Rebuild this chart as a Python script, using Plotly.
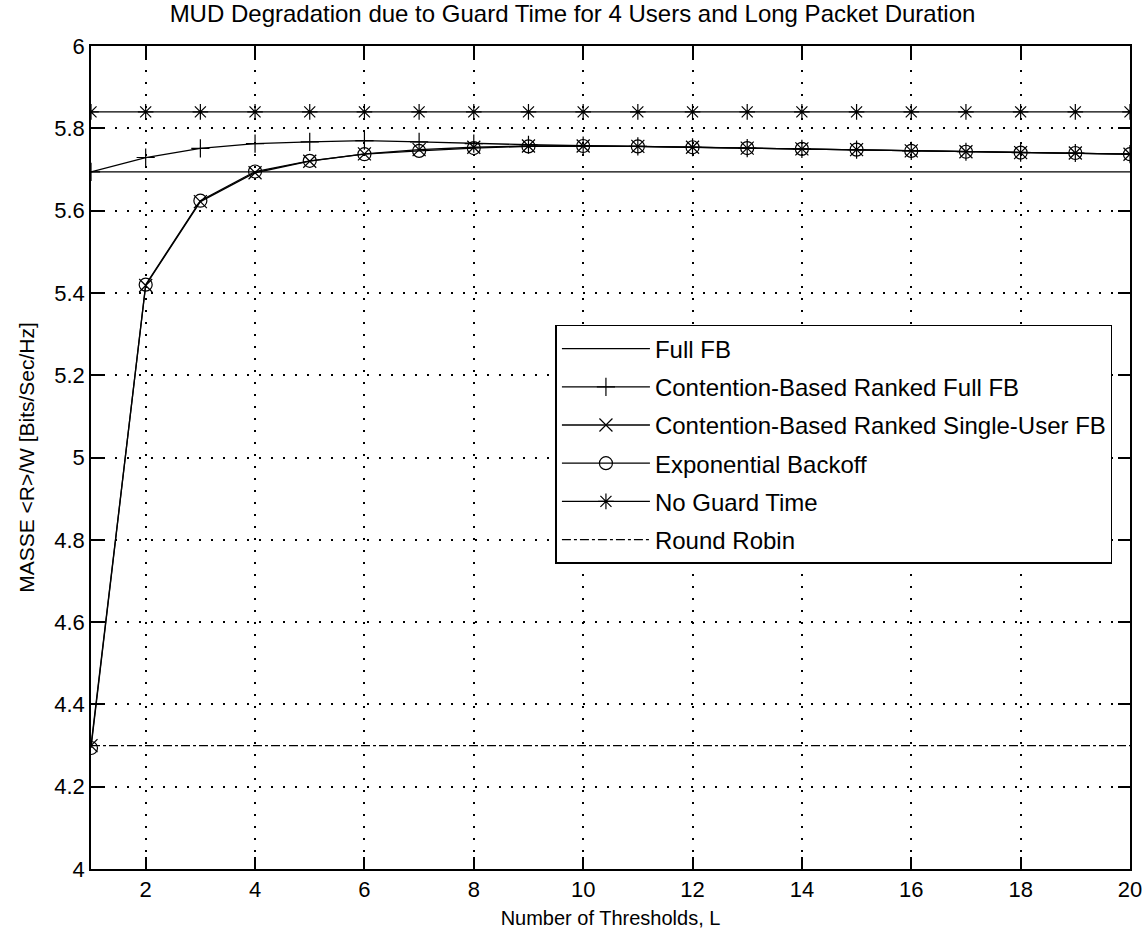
import plotly.graph_objects as go

L = list(range(1, 21))
full_fb = [5.694] * 20
cb_full = [5.694, 5.729, 5.751, 5.763, 5.767, 5.770, 5.767, 5.763, 5.760, 5.758,
           5.756, 5.754, 5.752, 5.750, 5.748, 5.745, 5.743, 5.741, 5.740, 5.737]
cb_single = [4.300, 5.418, 5.622, 5.692, 5.720, 5.738, 5.748, 5.754, 5.757, 5.757,
             5.756, 5.754, 5.752, 5.750, 5.748, 5.745, 5.743, 5.741, 5.740, 5.737]
exp_backoff = [4.294, 5.420, 5.624, 5.695, 5.721, 5.737, 5.745, 5.752, 5.756, 5.757,
               5.756, 5.754, 5.752, 5.750, 5.748, 5.745, 5.743, 5.741, 5.740, 5.737]
no_guard = [5.840] * 20
round_robin = [4.300] * 20

x_ticks = list(range(2, 21, 2))
y_ticks = [4.0, 4.2, 4.4, 4.6, 4.8, 5.0, 5.2, 5.4, 5.6, 5.8, 6.0]
y_ticktext = ["4", "4.2", "4.4", "4.6", "4.8", "5", "5.2", "5.4", "5.6", "5.8", "6"]

FONT = "Liberation Sans"
fig = go.Figure()

def add(y, name, symbol=None, dash="solid", grp="a"):
    mode = "lines+markers" if symbol else "lines"
    kw = {}
    if symbol:
        kw["marker"] = dict(symbol=symbol, size=13, color="black",
                            line=dict(color="black", width=1.2))
    fig.add_trace(go.Scatter(x=L, y=y, name=name, mode=mode,
                             line=dict(color="black", width=1.3, dash=dash),
                             legendgroup=grp, **kw))

add(full_fb, "Full FB", grp="g1")
add(cb_full, "Contention-Based Ranked Full FB", "cross-thin-open", grp="g2")
add(cb_single, "Contention-Based Ranked Single-User FB", "x-thin-open", grp="g3")
add(exp_backoff, "Exponential Backoff", "circle-open", grp="g4")
add(no_guard, "No Guard Time", "asterisk-open", grp="g5")
add(round_robin, "Round Robin", dash="dashdot", grp="g6")

axis_common = dict(showline=True, linecolor="black", linewidth=1.5, mirror="ticks",
                   ticks="inside", ticklen=12, tickwidth=1.5, tickcolor="black",
                   showgrid=True, gridcolor="black", gridwidth=1.5, griddash="2px,10px",
                   zeroline=False, automargin=False,
                   tickfont=dict(family=FONT, size=22, color="black"))

fig.update_xaxes(range=[1, 20], tickvals=x_ticks,
                 title=dict(text="Number of Thresholds, L",
                            font=dict(family=FONT, size=20, color="black"), standoff=10),
                 **axis_common)
fig.update_yaxes(range=[4, 6], tickvals=y_ticks, ticktext=y_ticktext,
                 title=dict(text="MASSE &lt;R&gt;/W [Bits/Sec/Hz]",
                            font=dict(family=FONT, size=21, color="black"), standoff=14),
                 **axis_common)

fig.update_layout(
    width=1145, height=938,
    margin=dict(l=91, r=15, t=46, b=69),
    paper_bgcolor="white", plot_bgcolor="white",
    title=dict(text="MUD Degradation due to Guard Time for 4 Users and Long Packet Duration",
               x=0.5, xanchor="center", y=0.995, yanchor="top",
               font=dict(family=FONT, size=24, color="black")),
    legend=dict(x=0.447, y=0.661, xanchor="left", yanchor="top",
                bgcolor="white", bordercolor="black", borderwidth=1.5,
                font=dict(family=FONT, size=24, color="black"),
                tracegroupgap=4, traceorder="grouped", itemwidth=88),
    showlegend=True,
)

fig.write_html("out.html")
